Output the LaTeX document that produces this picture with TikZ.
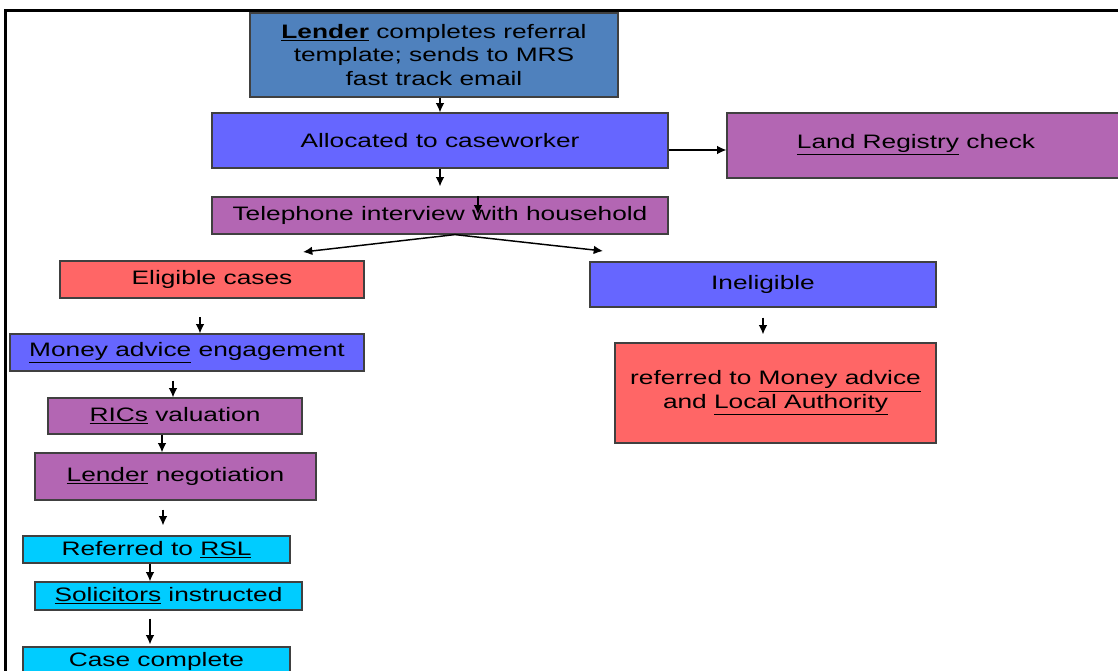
\documentclass[tikz,border=0pt]{standalone}
\usepackage{fontspec}
\setmainfont{Liberation Sans}[FakeStretch=1.35]
\usetikzlibrary{arrows.meta,calc}
\definecolor{lenderblue}{HTML}{4F81BD}
\definecolor{boxblue}{HTML}{6666FF}
\definecolor{boxpurple}{HTML}{B366B3}
\definecolor{boxred}{HTML}{FF6666}
\definecolor{boxcyan}{HTML}{00CCFF}
\definecolor{boxline}{HTML}{404040}
\begin{document}
\begin{tikzpicture}[x=0.75pt,y=-0.75pt,
  txt/.style={font=\fontsize{14.6}{17.6}\selectfont, align=center},
  box/.style={txt, draw=boxline, line width=0.9pt, inner sep=0pt},
  sz/.style 2 args={minimum width=#1*0.75pt, minimum height=#2*0.75pt},
  arr/.style={line width=1.1pt, -{Latex[length=7pt,width=6.5pt]}},
  frame/.style={line width=2.25pt}]
\useasboundingbox (0,0) rectangle (1118,671);
% frame
\draw[frame] (5,690) -- (5,10) -- (1130,10);
% nodes
\node[box, fill=lenderblue, sz={368}{84}] (lender) at (434,55)
  {\textbf{\underline{Lender}} completes referral\\template; sends to MRS\\fast track email};
\node[box, fill=boxblue, sz={456}{55}] (alloc) at (440,140.5) {Allocated to caseworker};
\node[box, fill=boxpurple, sz={403}{65}] (lr) at (928.5,145.5) {};
\node[txt] (lrtext) at (916,145) {\underline{Land Registry} check};
\node[box, fill=boxpurple, sz={456}{37}] (tel) at (440,215.5) {Telephone interview with household};
\node[box, fill=boxred, sz={304}{37}] (el) at (212,279.5) {Eligible cases};
\node[box, fill=boxblue, sz={346}{45}] (ine) at (763,284.5) {Ineligible};
\node[box, fill=boxblue, sz={354}{37}] (money) at (187,352.5) {\underline{Money advice} engagement};
\node[box, fill=boxpurple, sz={254}{36}] (rics) at (175,416) {\underline{RICs} valuation};
\node[box, fill=boxpurple, sz={281}{47}] (lneg) at (175.5,476.5) {\underline{Lender} negotiation};
\node[box, fill=boxcyan, sz={267}{27}] (rsl) at (156.5,549.5) {Referred to \underline{RSL}};
\node[box, fill=boxcyan, sz={267}{28}] (sol) at (168.5,596) {\underline{Solicitors} instructed};
\node[box, fill=boxcyan, sz={267}{28}] (case) at (156.5,661) {Case complete};
\node[box, fill=boxred, sz={321}{100}] (ref) at (775.5,393)
  {referred to \underline{Money advice}\\and \underline{Local Authority}};
% connector anchors
\coordinate (telin) at ($(tel.north)+(38,0)$);
\coordinate (allocout) at ($(alloc.east)+(0,9.5)$);
\coordinate (split) at ($(tel.south)+(15,0)$);
\coordinate (eltip) at (303,252);
\coordinate (inetip) at (603,251);
\coordinate (c1) at ($(el.south)+(-12,0)$);
\coordinate (c2) at ($(money.south)+(-14,0)$);
\coordinate (c3) at ($(rics.south)+(-13,0)$);
\coordinate (c4) at ($(lneg.south)+(-12.5,0)$);
\coordinate (c5) at ($(rsl.south)+(-6.5,0)$);
\coordinate (c6) at ($(sol.south)+(-18.5,0)$);
% connectors
\draw[arr] (lender.south -| alloc.north) -- (alloc.north);
\draw[arr, shorten >=7.5pt] (alloc.south) -- (tel.north);
\draw[arr] (telin) -- ++(0,18);
\draw[arr] (allocout) -- (allocout -| lr.west);
\draw[arr] (split) -- (eltip);
\draw[arr] (split) -- (inetip);
\draw[arr, shorten <=14pt] (c1) -- (c1 |- money.north);
\draw[arr, shorten <=6.75pt] (c2) -- (c2 |- rics.north);
\draw[arr] (c3) -- (c3 |- lneg.north);
\draw[arr, shorten <=6.75pt, shorten >=7.5pt] (c4) -- (c4 |- rsl.north);
\draw[arr] (c5) -- (c5 |- sol.north);
\draw[arr, shorten <=6pt, shorten >=1.5pt] (c6) -- (c6 |- case.north);
\draw[arr, shorten <=7.5pt, shorten >=6pt] (ine.south) -- (ine.south |- ref.north);
\end{tikzpicture}
\end{document}
